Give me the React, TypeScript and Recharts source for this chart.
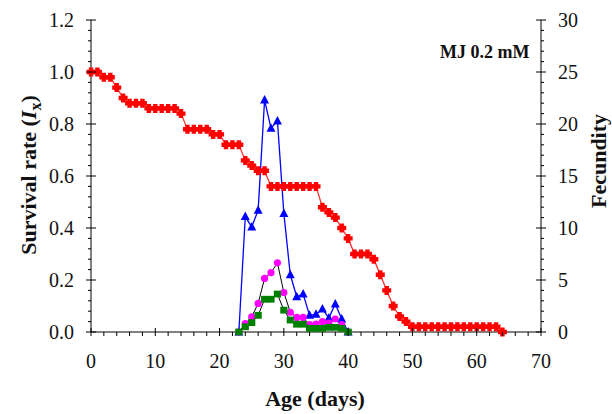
import { LineChart, Line, XAxis, YAxis, Customized } from "recharts";

// age in days (survival is recorded every day)
const days = Array.from({ length: 65 }, (_, i) => i);

const survival = [
  1.0, 1.0, 0.98, 0.98, 0.94, 0.9, 0.88, 0.88, 0.88, 0.86,
  0.86, 0.86, 0.86, 0.86, 0.84, 0.78, 0.78, 0.78, 0.78, 0.76,
  0.76, 0.72, 0.72, 0.72, 0.66, 0.64, 0.62, 0.62, 0.56, 0.56,
  0.56, 0.56, 0.56, 0.56, 0.56, 0.56, 0.48, 0.46, 0.44, 0.4,
  0.36, 0.3, 0.3, 0.3, 0.28, 0.22, 0.16, 0.1, 0.06, 0.04,
  0.02, 0.02, 0.02, 0.02, 0.02, 0.02, 0.02, 0.02, 0.02, 0.02,
  0.02, 0.02, 0.02, 0.02, 0.0,
];

// fecundity, days 23..40
const fecStart = 23;
const fecBlue = [0, 11.1, 10.1, 11.7, 22.3, 19.6, 20.3, 11.4, 5.5, 3.4, 3.65, 1.6, 1.7, 2.2, 1.35, 2.7, 1.25, 0];
const fecMagenta = [0, 0.8, 1.45, 2.75, 5.15, 5.7, 6.65, 3.8, 1.9, 1.4, 1.4, 0.7, 0.75, 1.0, 0.85, 1.25, 0.7, 0];
const fecGreen = [0, 0.5, 0.9, 1.6, 3.15, 3.15, 3.65, 2.1, 1.15, 0.75, 0.75, 0.35, 0.35, 0.35, 0.45, 0.45, 0.35, 0];

const xTicks = Array.from({ length: 36 }, (_, i) => i * 2);
const leftTicks = Array.from({ length: 31 }, (_, i) => Math.round(i * 4) / 100);
const rightTicks = Array.from({ length: 31 }, (_, i) => i);

const data = days.map((d, i) => {
  const k = d - fecStart;
  const inFec = k >= 0 && k < fecBlue.length;
  return {
    day: d,
    survival: survival[i],
    blue: inFec ? fecBlue[k] : null,
    magenta: inFec ? fecMagenta[k] : null,
    green: inFec ? fecGreen[k] : null,
  };
});

const FONT = "'Liberation Serif', 'Times New Roman', serif";

const near = (v: number, step: number) => Math.abs(v / step - Math.round(v / step)) < 1e-6;

function LeftTick(props: any) {
  const { x, y, payload } = props;
  const v = payload.value as number;
  const major = near(v, 0.2);
  return (
    <g>
      <line x1={x - (major ? 5 : 3)} x2={major ? x + 5 : x} y1={y} y2={y} stroke="#000" />
      {major && (
        <text x={x - 17} y={y} dy="0.36em" textAnchor="end" fontFamily={FONT} fontSize={20} fill="#111">
          {v.toFixed(1)}
        </text>
      )}
    </g>
  );
}

function RightTick(props: any) {
  const { x, y, payload } = props;
  const v = payload.value as number;
  const major = v % 5 === 0;
  return (
    <g>
      <line x1={major ? x - 5 : x} x2={x + (major ? 5 : 3)} y1={y} y2={y} stroke="#000" />
      {major && (
        <text x={x + 17} y={y} dy="0.36em" textAnchor="start" fontFamily={FONT} fontSize={20} fill="#111">
          {v}
        </text>
      )}
    </g>
  );
}

function BottomTick(props: any) {
  const { x, y, payload } = props;
  const v = payload.value as number;
  const major = v % 10 === 0;
  return (
    <g>
      <line x1={x} x2={x} y1={major ? y - 4 : y} y2={y + 4} stroke="#000" />
      {major && (
        <text x={x} y={y + 36} textAnchor="middle" fontFamily={FONT} fontSize={20} fill="#111">
          {v}
        </text>
      )}
    </g>
  );
}

function PlusDot(props: any) {
  const { cx, cy, index } = props;
  if (cx == null || cy == null) return <g key={`p${index}`} />;
  const s = 4.5;
  const t = 2.2;
  const d = `M${cx - t},${cy - s}H${cx + t}V${cy - t}H${cx + s}V${cy + t}H${cx + t}V${cy + s}H${cx - t}V${cy + t}H${cx - s}V${cy - t}H${cx - t}Z`;
  return <path key={`p${index}`} d={d} fill="#ff0000" />;
}

function TriDot(props: any) {
  const { cx, cy, index } = props;
  if (cx == null || cy == null) return <g key={`t${index}`} />;
  return <path key={`t${index}`} d={`M${cx},${cy - 5}L${cx + 4.5},${cy + 3.5}L${cx - 4.5},${cy + 3.5}Z`} fill="#0000ff" />;
}

function CircleDot(props: any) {
  const { cx, cy, index } = props;
  if (cx == null || cy == null) return <g key={`c${index}`} />;
  return <circle key={`c${index}`} cx={cx} cy={cy} r={3.6} fill="#ff00ff" />;
}

function SquareDot(props: any) {
  const { cx, cy, index } = props;
  if (cx == null || cy == null) return <g key={`s${index}`} />;
  return <rect key={`s${index}`} x={cx - 3.6} y={cy - 3.4} width={7.2} height={6.8} fill="#008000" />;
}

function Texts() {
  return (
    <g fontFamily={FONT} fill="#111">
      <text x={440} y={58} fontSize={18} fontWeight="bold">
        MJ 0.2 mM
      </text>
      <text x={315} y={406} fontSize={22} fontWeight="bold" textAnchor="middle">
        Age (days)
      </text>
      <text transform="translate(36,175) rotate(-90)" fontSize={22} fontWeight="bold" textAnchor="middle">
        Survival rate (<tspan fontStyle="italic">I</tspan>
        <tspan fontSize={16} dy={5}>x</tspan>
        <tspan dy={-5}>)</tspan>
      </text>
      <text transform="translate(606,161) rotate(-90)" fontSize={22} fontWeight="bold" textAnchor="middle">
        Fecundity
      </text>
    </g>
  );
}

export default function App() {
  return (
    <div style={{ position: "absolute", left: 0, top: 0, width: 612, height: 414, background: "#fff" }}>
      <LineChart width={612} height={414} data={data} margin={{ top: 20, right: 0, bottom: 0, left: 0 }}>
        <XAxis
          type="number"
          dataKey="day"
          domain={[0, 70]}
          ticks={xTicks}
          interval={0}
          height={82}
          tickSize={0}
          tickMargin={0}
          tickLine={false}
          tick={<BottomTick />}
          axisLine={{ stroke: "#808080", strokeWidth: 2 }}
        />
        <YAxis
          yAxisId="left"
          orientation="left"
          domain={[0, 1.2]}
          ticks={leftTicks}
          interval={0}
          width={91}
          tickSize={0}
          tickMargin={0}
          tickLine={false}
          tick={<LeftTick />}
          axisLine={{ stroke: "#000" }}
        />
        <YAxis
          yAxisId="right"
          orientation="right"
          domain={[0, 30]}
          ticks={rightTicks}
          interval={0}
          width={71}
          tickSize={0}
          tickMargin={0}
          tickLine={false}
          tick={<RightTick />}
          axisLine={{ stroke: "#000" }}
        />
        <Line
          yAxisId="left"
          dataKey="survival"
          stroke="#ff3030"
          strokeWidth={1.3}
          dot={PlusDot}
          activeDot={false}
          isAnimationActive={false}
        />
        <Line
          yAxisId="right"
          dataKey="blue"
          stroke="#0000ff"
          strokeWidth={1.3}
          dot={TriDot}
          activeDot={false}
          isAnimationActive={false}
        />
        <Line
          yAxisId="right"
          dataKey="magenta"
          stroke="#000"
          strokeWidth={1}
          dot={CircleDot}
          activeDot={false}
          isAnimationActive={false}
        />
        <Line
          yAxisId="right"
          dataKey="green"
          stroke="#000"
          strokeWidth={1}
          dot={SquareDot}
          activeDot={false}
          isAnimationActive={false}
        />
        <Customized component={Texts} />
      </LineChart>
    </div>
  );
}
